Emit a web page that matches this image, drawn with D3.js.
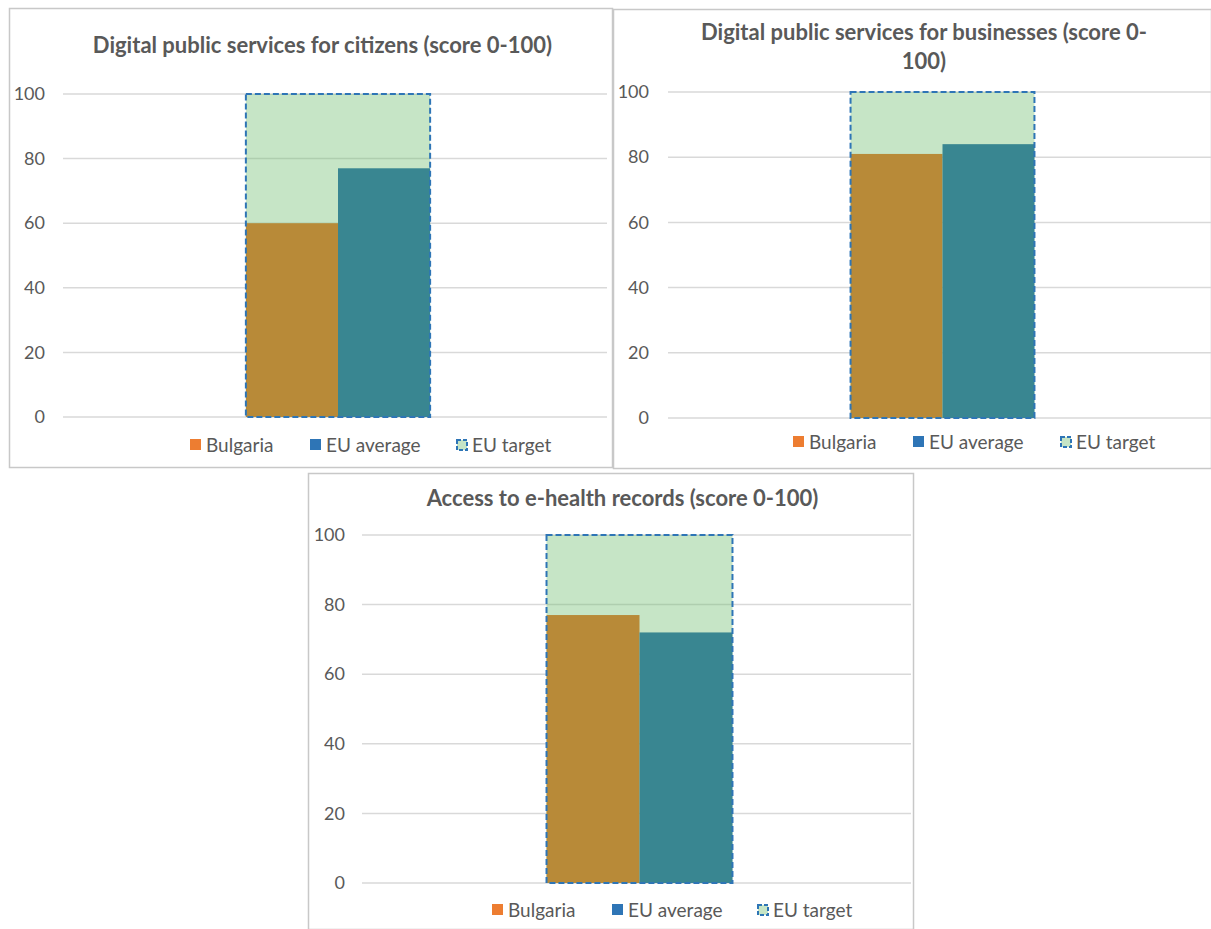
<!DOCTYPE html>
<html><head><meta charset="utf-8">
<script src="https://cdn.jsdelivr.net/npm/d3@7"></script>
<style>body{margin:0;background:#fff;} svg{display:block;font-family:Lato,"Open Sans",sans-serif;}</style>
</head><body>
<svg id="c" width="1211" height="929"></svg>
<script>
const titles = [["Digital public services for citizens (score 0-100)"],
                ["Digital public services for businesses (score 0-", "100)"],
                ["Access to e-health records (score 0-100)"]];
const seriesNames = ["Bulgaria", "EU average", "EU target"];
const bulgaria = [60, 81, 77];
const euAverage = [77, 84, 72];
const euTarget = [100, 100, 100];
const yTicks = [0, 20, 40, 60, 80, 100];

const layouts = [
  {box:[9,8,603,459], x0:69, x1:607, labX:45, yTop:94, yBot:417, titleY:[53], legY:445, legX:[190,310,456]},
  {box:[613,9,598,459], x0:674, x1:1211, labX:649, yTop:92, yBot:418, titleY:[40,69], legY:442, legX:[793,913,1060]},
  {box:[308,473,605,456], x0:368, x1:911, labX:345, yTop:535, yBot:883, titleY:[506], legY:910, legX:[492,612,757]}
];
const colBG = "#B88A38", colEU = "#398691", legBG = "#ED7D31", legEU = "#2E75B6";
const svg = d3.select("#c");

layouts.forEach((L, i) => {
  const g = svg.append("g");
  g.append("rect").attr("x", L.box[0]+0.5).attr("y", L.box[1]+0.5).attr("width", L.box[2]).attr("height", L.box[3])
    .attr("fill", "#fff").attr("stroke", "#C8C8C8").attr("stroke-width", 1.5);
  const y = d3.scaleLinear().domain([0, 100]).range([L.yBot, L.yTop]);
  const x = d3.scaleBand().domain(["cat"]).range([L.x0, L.x1]).paddingInner(0).paddingOuter(0.96);
  const xs = d3.scaleBand().domain(["Bulgaria", "EU average"]).range([0, x.bandwidth()]).padding(0);
  // gridlines
  g.append("g").selectAll("line").data(yTicks).join("line")
    .attr("x1", L.x0 - 6).attr("x2", L.x1).attr("y1", d => y(d)).attr("y2", d => y(d))
    .attr("stroke", "#D9D9D9").attr("stroke-width", 1.5);
  // axis labels
  const ax = d3.axisLeft(y).tickValues(yTicks).tickSize(0).tickPadding(0);
  const axg = g.append("g").attr("transform", `translate(${L.labX},0)`).call(ax);
  axg.select(".domain").remove();
  axg.selectAll("text").attr("fill", "#595959").style("font-size", "18px").style("font-family", "Lato,'Open Sans',sans-serif");
  const bx = x("cat");
  // target (semi-transparent overlay over gridlines)
  g.append("rect").attr("x", bx).attr("width", x.bandwidth())
    .attr("y", y(euTarget[i])).attr("height", y(0) - y(euTarget[i]))
    .attr("fill", "rgba(112,190,112,0.4)");
  // bars
  g.append("rect").attr("x", bx + xs("Bulgaria")).attr("width", xs.bandwidth())
    .attr("y", y(bulgaria[i])).attr("height", y(0) - y(bulgaria[i])).attr("fill", colBG);
  g.append("rect").attr("x", bx + xs("EU average")).attr("width", xs.bandwidth())
    .attr("y", y(euAverage[i])).attr("height", y(0) - y(euAverage[i])).attr("fill", colEU);
  // target border
  g.append("rect").attr("x", bx).attr("width", x.bandwidth())
    .attr("y", y(euTarget[i])).attr("height", y(0) - y(euTarget[i]))
    .attr("fill", "none").attr("stroke", "#2E75B6").attr("stroke-width", 2)
    .attr("stroke-dasharray", "6,3");
  // title
  const cx = L.box[0] + L.box[2] / 2 + 12;
  titles[i].forEach((t, k) => {
    g.append("text").attr("x", cx).attr("y", L.titleY[k]).attr("text-anchor", "middle")
      .attr("fill", "#595959").style("font-size", "22px").style("font-weight", "bold").text(t);
  });
  // legend
  const lg = g.append("g");
  seriesNames.forEach((s, k) => {
    const lx = L.legX[k];
    if (k < 2) {
      lg.append("rect").attr("x", lx).attr("y", L.legY - 6).attr("width", 11).attr("height", 11)
        .attr("fill", k === 0 ? legBG : legEU);
    } else {
      lg.append("rect").attr("x", lx + 1).attr("y", L.legY - 5).attr("width", 10).attr("height", 10)
        .attr("fill", "#C6E5C6").attr("stroke", "#2E75B6").attr("stroke-width", 2).attr("stroke-dasharray", "4,2");
    }
    lg.append("text").attr("x", lx + 16).attr("y", L.legY).attr("dy", "0.35em")
      .attr("fill", "#595959").style("font-size", "19px").text(s);
  });
});
</script>
</body></html>
